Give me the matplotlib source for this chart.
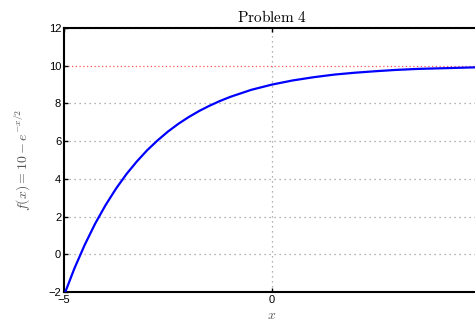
import matplotlib
matplotlib.use("Agg")
import matplotlib.pyplot as plt

plt.rcParams['mathtext.fontset'] = 'cm'
plt.rcParams['font.family'] = ['Liberation Sans', 'DejaVu Sans']

x_vals = [-5.0, -4.75, -4.5, -4.25, -4.0, -3.75, -3.5, -3.25, -3.0, -2.75, -2.5,
          -2.25, -2.0, -1.75, -1.5, -1.25, -1.0, -0.5, 0.0, 0.5, 1.0, 1.5, 2.0,
          2.5, 3.0, 3.5, 4.0, 4.5, 5.0]
y_vals = [-2.18, -0.75, 0.51, 1.63, 2.61, 3.48, 4.25, 4.92, 5.52, 6.04, 6.51,
          6.92, 7.28, 7.60, 7.88, 8.13, 8.35, 8.72, 9.00, 9.22, 9.39, 9.53, 9.63,
          9.71, 9.78, 9.83, 9.86, 9.89, 9.92]
asymptote = 10
x_ticks = [-5, 0]
x_tick_labels = ['\u22125', '0']
y_ticks = [-2, 0, 2, 4, 6, 8, 10, 12]
y_tick_labels = ['\u22122', '0', '2', '4', '6', '8', '10', '12']

fig = plt.figure(figsize=(4.75, 3.24), dpi=100)
ax = fig.add_axes([64/475, 32/324, 416/475, 264/324])

for yt in y_ticks:
    if yt != asymptote:
        ax.axhline(yt, color='#999999', linestyle=(0, (1, 3)), linewidth=0.9, zorder=1)
ax.axvline(0, color='#999999', linestyle=(0, (1, 3)), linewidth=0.9, zorder=1)
ax.axhline(asymptote, color='#ff5555', linestyle=(0, (1, 2)), linewidth=0.9, zorder=1)

ax.plot(x_vals, y_vals, color='#0000ff', linewidth=1.6, zorder=3)

ax.set_xlim(-5, 5)
ax.set_ylim(-2, 12)
ax.set_xticks(x_ticks)
ax.set_yticks(y_ticks)
ax.set_xticklabels(x_tick_labels)
ax.set_yticklabels(y_tick_labels)
ax.tick_params(direction='in', length=3, width=1, labelsize=8, top=True, right=True, pad=2)

for s in ax.spines.values():
    s.set_linewidth(1.5)

ax.set_title(r'$\mathrm{Problem\ 4}$', fontsize=11, pad=4)
ax.set_xlabel(r'$x$', fontsize=10, color='#555555', labelpad=2)
ax.set_ylabel(r'$f(x) = 10 - e^{-x/2}$', fontsize=10, color='#555555', labelpad=12)

fig.savefig('out.png', dpi=100)
